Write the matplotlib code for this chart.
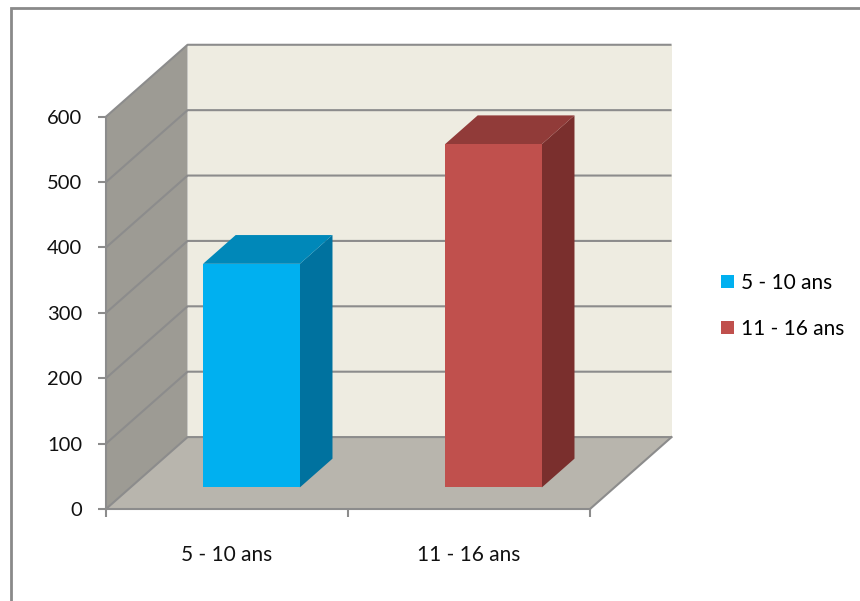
import matplotlib
matplotlib.use('Agg')
import matplotlib.pyplot as plt
from matplotlib.patches import Polygon, Rectangle

# Data
categories = ['5 - 10 ans', '11 - 16 ans']
values = [342, 525]
y_ticks = [0, 100, 200, 300, 400, 500, 600]

# Colours: front / top / side faces of each column
front_colors = ['#00b0f0', '#c0504d']
top_colors = ['#0088b9', '#913b39']
side_colors = ['#00729f', '#7a2f2d']
wall_side = '#9d9b94'
wall_back = '#eeece1'
floor_color = '#b8b5ad'
line_grey = '#8c8c8c'

plt.rcParams['font.family'] = ['Lato', 'DejaVu Sans']

fig = plt.figure(figsize=(8.6, 6.01), dpi=100)
ax = fig.add_axes([106 / 860, 92 / 601, 484 / 860, 392.3 / 601])
n = len(categories)
ymax = y_ticks[-1]
ax.set_xlim(0, n)
ax.set_ylim(0, ymax)
ax.patch.set_visible(False)

# oblique depth offset (x in category units, y in value units)
DX, DY = 0.337, 110


def face(pts, color, z):
    ax.add_patch(Polygon(pts, closed=True, facecolor=color, edgecolor='none',
                         clip_on=False, zorder=z))


# walls and floor
face([(0, 0), (DX, DY), (DX, ymax + DY), (0, ymax)], wall_side, 0.5)
face([(DX, DY), (n + DX, DY), (n + DX, ymax + DY), (DX, ymax + DY)], wall_back, 0.5)
face([(0, 0), (n, 0), (n + DX, DY), (DX, DY)], floor_color, 0.6)

# gridlines running along the side wall and back wall
for v in y_ticks:
    ax.plot([0, DX, n + DX], [v, v + DY, v + DY], color=line_grey, lw=1.5,
            clip_on=False, zorder=1, solid_capstyle='butt')
ax.plot([n, n + DX], [0, DY], color=line_grey, lw=1.5, clip_on=False, zorder=1)

# columns: front face from ax.bar, top and side faces as polygons
f0, depth, width = 0.3, 0.4, 0.4
bdx, bdy = depth * DX, depth * DY
handles = []
for i, v in enumerate(values):
    x0 = i + 0.3 + f0 * DX
    x1 = x0 + width
    b = f0 * DY
    t = b + v
    face([(x1, b), (x1 + bdx, b + bdy), (x1 + bdx, t + bdy), (x1, t)], side_colors[i], 3)
    face([(x0, t), (x1, t), (x1 + bdx, t + bdy), (x0 + bdx, t + bdy)], top_colors[i], 3)
    bars = ax.bar(x0, v, bottom=b, width=width, align='edge', color=front_colors[i],
                  zorder=3.2, clip_on=False, label=categories[i])
    handles.append(bars)

# axes
for s in ['top', 'right']:
    ax.spines[s].set_visible(False)
for s in ['left', 'bottom']:
    ax.spines[s].set_color(line_grey)
    ax.spines[s].set_linewidth(1.5)

ax.set_yticks(y_ticks)
ax.tick_params(axis='y', direction='out', length=6, width=1.5, color=line_grey,
               pad=11, labelsize=14.5, labelcolor='#111111')
ax.set_xticks(range(n + 1))
ax.set_xticklabels([])
ax.tick_params(axis='x', which='major', direction='out', length=6, width=1.5, color=line_grey)
ax.set_xticks([i + 0.5 for i in range(n)], minor=True)
ax.set_xticklabels(categories, minor=True)
ax.tick_params(axis='x', which='minor', length=0, pad=26, labelsize=15, labelcolor='#111111')

ax.legend(handles=handles, loc='center left', bbox_to_anchor=(721 / 860, 1 - 306 / 601),
          bbox_transform=fig.transFigure, frameon=False, fontsize=15,
          handlelength=0.6, handleheight=0.6, handletextpad=0.35, labelspacing=1.25,
          borderpad=0, borderaxespad=0)

# chart area border
fig.add_artist(Rectangle((11 / 860, -0.1), 1.2, 1 - 8 / 601 + 0.1, transform=fig.transFigure,
                         facecolor='none', edgecolor='#8a8a8a', lw=2, clip_on=False))

fig.savefig('out.png', dpi=100)
